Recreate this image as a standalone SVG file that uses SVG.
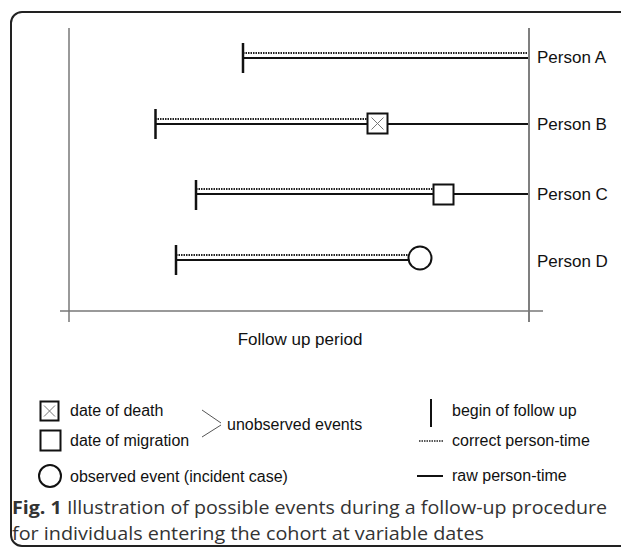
<svg xmlns="http://www.w3.org/2000/svg" width="621" height="548" viewBox="0 0 621 548">
<style>
.axis{stroke:#777;stroke-width:1.5;fill:none}
.tick{stroke:#111;stroke-width:2.5}
.dot{stroke:#222;stroke-width:2;stroke-dasharray:1.5 1;fill:none}
.raw{stroke:#111;stroke-width:2;fill:none}
.sym{fill:#fff;stroke:#111;stroke-width:2}
.x{stroke:#777;stroke-width:1}
.lbl{font-family:"Liberation Sans",Arial,sans-serif;font-size:17px;fill:#111}
.leg{font-family:"Liberation Sans",Arial,sans-serif;font-size:16px;fill:#111}
.cap{font-family:"Open Sans","Noto Sans",sans-serif;font-size:18.5px;fill:#333}
</style>
<rect x="0" y="0" width="621" height="548" fill="#fff"/>
<rect x="11" y="12" width="650" height="534" rx="11" fill="none" stroke="#222" stroke-width="2"/>
<g id="axes">
<line class="axis" x1="69" y1="28" x2="69" y2="322"/>
<line class="axis" x1="529" y1="28" x2="529" y2="322" style="stroke:#555"/>
<line class="axis" x1="60" y1="311" x2="543" y2="311"/>
<text class="lbl" x="300" y="345" text-anchor="middle">Follow up period</text>
</g>
<g id="connectors">
<line class="dot" x1="243" y1="53" x2="528" y2="53"/>
<line class="raw" x1="243" y1="58" x2="528" y2="58"/>
<line class="dot" x1="155" y1="119" x2="367" y2="119"/>
<line class="raw" x1="155" y1="124" x2="528" y2="124"/>
<line class="dot" x1="196" y1="189" x2="433" y2="189"/>
<line class="raw" x1="196" y1="194" x2="528" y2="194"/>
<line class="dot" x1="176" y1="255" x2="409" y2="255"/>
<line class="raw" x1="176" y1="260" x2="409" y2="260"/>
</g>
<g id="personA">
<line class="tick" x1="243" y1="43" x2="243" y2="73"/>
<text class="lbl" x="537" y="63">Person A</text>
</g>
<g id="personB">
<line class="tick" x1="155.5" y1="109" x2="155.5" y2="139"/>
<rect class="sym" x="367.5" y="113.5" width="20" height="20"/>
<path class="x" d="M371.5 117.5L383.5 129.5M383.5 117.5L371.5 129.5"/>
<text class="lbl" x="537" y="130">Person B</text>
</g>
<g id="personC">
<line class="tick" x1="196" y1="180" x2="196" y2="210"/>
<rect class="sym" x="433.5" y="184.5" width="20" height="20"/>
<text class="lbl" x="537" y="200">Person C</text>
</g>
<g id="personD">
<line class="tick" x1="176" y1="245" x2="176" y2="275"/>
<circle class="sym" cx="420" cy="258" r="11.5"/>
<text class="lbl" x="537" y="267">Person D</text>
</g>
<g id="legend">
<rect x="40.5" y="401.5" width="18" height="19" fill="#fff" stroke="#111" stroke-width="2"/>
<path class="x" d="M44 405.5L55 416.5M55 405.5L44 416.5"/>
<text class="leg" x="70" y="416">date of death</text>
<rect x="40.5" y="430.5" width="20" height="20" fill="#fff" stroke="#111" stroke-width="2"/>
<text class="leg" x="70" y="446">date of migration</text>
<circle cx="50" cy="476" r="11" fill="#fff" stroke="#111" stroke-width="2"/>
<text class="leg" x="70" y="482">observed event (incident case)</text>
<path d="M202 410L221 423M202 437L221 425" stroke="#555" stroke-width="1" fill="none"/>
<text class="leg" x="227" y="430">unobserved events</text>
<line class="tick" x1="431" y1="399" x2="431" y2="427" style="stroke-width:2"/>
<text class="leg" x="452" y="416">begin of follow up</text>
<line class="dot" x1="419" y1="441" x2="444" y2="441" style="stroke-width:1.5"/>
<text class="leg" x="452" y="446">correct person-time</text>
<line class="raw" x1="417" y1="476" x2="443" y2="476"/>
<text class="leg" x="452" y="481">raw person-time</text>
</g>
<g id="caption">
<text class="cap" x="12" y="514" textLength="595" lengthAdjust="spacingAndGlyphs"><tspan font-weight="bold">Fig. 1</tspan> Illustration of possible events during a follow-up procedure</text>
<text class="cap" x="12" y="540" textLength="472" lengthAdjust="spacingAndGlyphs">for individuals entering the cohort at variable dates</text>
</g>
</svg>
